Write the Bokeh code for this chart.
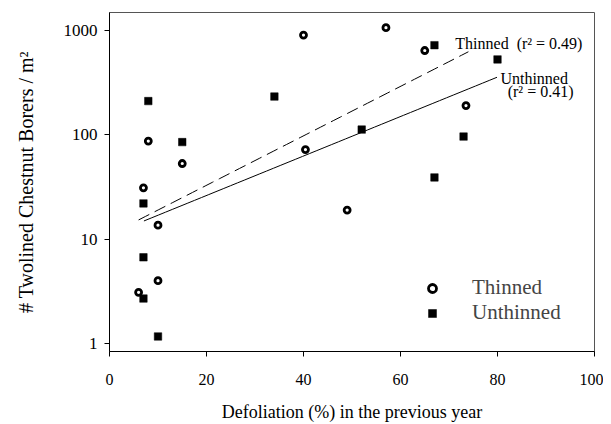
import numpy as np
from bokeh.plotting import figure
from bokeh.models import FixedTicker, Legend, LegendItem, Label, Range1d
from bokeh.embed import file_html
from bokeh.resources import INLINE

# Data
thinned_x = [6, 7, 8, 10, 10, 15, 40, 40.4, 49, 57, 65, 73.5]
thinned_y = [3.1, 31, 87, 4.0, 13.6, 53, 900, 72, 19, 1060, 640, 190]
unthinned_x = [7, 7, 7, 8, 10, 15, 34, 52, 67, 67, 73, 80]
unthinned_y = [2.7, 6.7, 22, 210, 1.17, 85, 232, 112, 39, 720, 96, 526]

# Regression fits: log10(y) = a + b*x over the shown x span
thinned_fit = dict(a=1.042, b=0.02368, x0=6, x1=74)
unthinned_fit = dict(a=1.040, b=0.0189, x0=7.1, x1=79.9)

y_ticks = [1, 10, 100, 1000]
y_tick_labels = ["1", "10", "100", "1000"]
x_ticks = [0, 20, 40, 60, 80, 100]

FONT = "Liberation Serif"

p = figure(width=603, height=424, y_axis_type="log",
           x_range=Range1d(0, 100), y_range=Range1d(0.84, 1480),
           output_backend="svg", toolbar_location=None,
           min_border_left=109, min_border_right=9, min_border_top=12, min_border_bottom=71)
p.background_fill_color = "white"
p.border_fill_color = "white"
p.outline_line_color = "#555555"
p.outline_line_width = 1
p.grid.visible = False

def fit_line(f):
    xs = np.linspace(f["x0"], f["x1"], 50)
    return xs, 10 ** (f["a"] + f["b"] * xs)

tx, ty = fit_line(thinned_fit)
ux, uy = fit_line(unthinned_fit)
p.line(tx, ty, line_color="black", line_width=1, line_dash="12 6")
p.line(ux, uy, line_color="black", line_width=1)

r_t = p.scatter(thinned_x, thinned_y, marker="circle", size=6, fill_color="white",
                line_color="black", line_width=2.8)
r_u = p.scatter(unthinned_x, unthinned_y, marker="square", size=7.5, fill_color="black",
                line_color="black", line_width=0.5)

lbl_kw = dict(text_font=FONT, text_font_size="16px", text_color="black", text_baseline="middle")
p.add_layout(Label(x=71.3, y=752, text="Thinned\u00a0\u00a0(r² = 0.49)", **lbl_kw))
p.add_layout(Label(x=80.6, y=349, text="Unthinned", **lbl_kw))
p.add_layout(Label(x=82.1, y=262, text="(r² = 0.41)", **lbl_kw))

legend = Legend(items=[LegendItem(label="Thinned", renderers=[r_t]),
                       LegendItem(label="Unthinned", renderers=[r_u])],
                location=(313, 26), border_line_color=None, background_fill_alpha=0,
                label_text_font=FONT, label_text_font_size="21px", label_standoff=30,
                spacing=0, label_height=20, glyph_width=20, glyph_height=20, padding=10)
p.add_layout(legend)

p.xaxis.ticker = FixedTicker(ticks=x_ticks)
p.yaxis.ticker = FixedTicker(ticks=y_ticks, minor_ticks=[])
p.yaxis.major_label_overrides = {t: l for t, l in zip(y_ticks, y_tick_labels)}
p.xaxis.minor_tick_line_color = None
p.yaxis.minor_tick_line_color = None
for ax in (p.xaxis, p.yaxis):
    ax.major_tick_out = 5
    ax.major_tick_in = 0
    ax.axis_line_color = "black"
    ax.major_tick_line_color = "black"
    ax.major_label_text_font = FONT
    ax.major_label_text_color = "black"
    ax.axis_label_text_font = FONT
    ax.axis_label_text_font_style = "normal"
    ax.axis_label_text_color = "black"
p.xaxis.major_label_text_font_size = "16px"
p.yaxis.major_label_text_font_size = "17px"
p.xaxis.axis_label_text_font_size = "18px"
p.yaxis.axis_label_text_font_size = "20px"
p.xaxis.axis_label = "Defoliation (%) in the previous year"
p.yaxis.axis_label = "# Twolined Chestnut Borers / m²"
p.xaxis.major_label_standoff = 17
p.xaxis.axis_label_standoff = 14
p.yaxis.major_label_standoff = 7
p.yaxis.axis_label_standoff = 24

open("out.html", "w").write(file_html(p, INLINE))
